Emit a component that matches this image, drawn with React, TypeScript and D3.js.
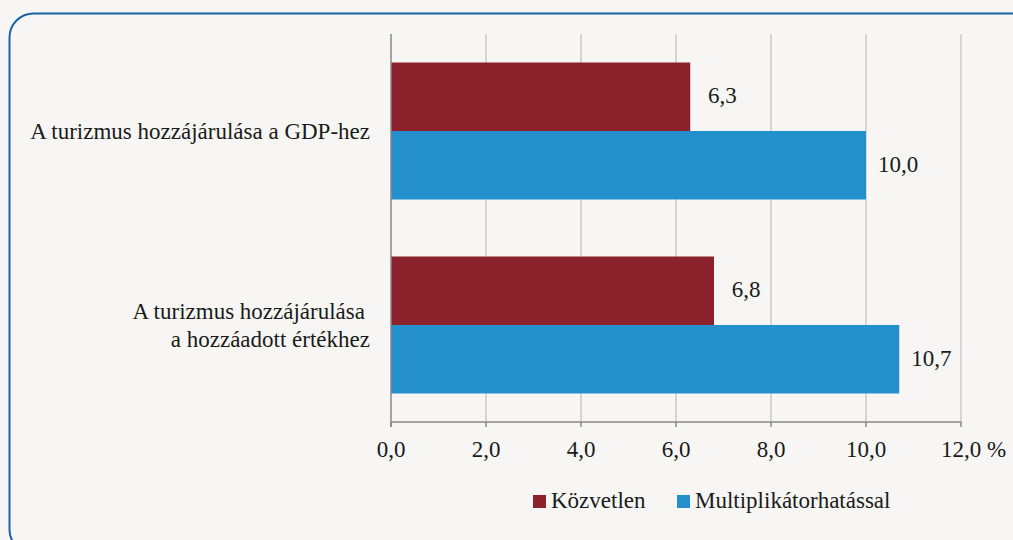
import React from "react";
import * as d3 from "d3";

const categories = ["A turizmus hozzájárulása a GDP-hez", "A turizmus hozzájárulása\na hozzáadott értékhez"];
const seriesNames = ["Közvetlen", "Multiplikátorhatással"];
const kozvetlen = [6.3, 6.8];
const multiplikator = [10.0, 10.7];
const xTicks = [0, 2, 4, 6, 8, 10, 12];
const colors = ["#8b222c", "#2390cc"];

const W = 1013, H = 540;
const FONT = "Liberation Serif, DejaVu Serif, serif";
const txt: React.CSSProperties = { fontFamily: FONT, fontSize: 23 };

export default function App() {
  const x = d3.scaleLinear().domain([0, 12]).range([391, 961]);
  const y = d3.scaleBand().domain(categories).range([34, 422]).paddingInner(0).paddingOuter(0);
  const inner = d3.scaleBand().domain(seriesNames).range([0, y.bandwidth()]).paddingOuter(0.416).paddingInner(0);
  const fmt = (v: number) => d3.format(".1f")(v).replace(".", ",");
  const series = [kozvetlen, multiplikator];
  return (
    <svg width={W} height={H} style={{ position: "absolute", left: 0, top: 0, background: "#f7f6f4" }}>
      <rect x={0} y={0} width={W} height={H} fill="#f7f6f4" />
      <rect x={9.5} y={13.5} width={1030} height={540} rx={24} fill="none" stroke="#1d62a6" strokeWidth={2} />
      {xTicks.slice(1).map((t) => (
        <line key={t} x1={x(t)} x2={x(t)} y1={34} y2={422} stroke="#b4b4b4" strokeWidth={1} />
      ))}
      {series.map((vals, si) =>
        categories.map((c, ci) => (
          <rect key={`${si}-${ci}`} x={x(0)} y={(y(c) ?? 0) + (inner(seriesNames[si]) ?? 0)}
            width={x(vals[ci]) - x(0)} height={inner.bandwidth()} fill={colors[si]} />
        ))
      )}
      {series.map((vals, si) =>
        categories.map((c, ci) => (
          <text key={`l${si}-${ci}`} x={x(vals[ci]) + 32} y={(y(c) ?? 0) + (inner(seriesNames[si]) ?? 0) + inner.bandwidth() / 2 + 6.5}
            textAnchor="middle" style={txt} fill="#1a1a1a">
            {fmt(vals[ci])}
          </text>
        ))
      )}
      <line x1={x(0)} x2={x(12)} y1={422} y2={422} stroke="#888" strokeWidth={1.5} />
      <line x1={x(0)} x2={x(0)} y1={34} y2={427} stroke="#888" strokeWidth={1.5} />
      {xTicks.map((t) => (
        <g key={`t${t}`}>
          <line x1={x(t)} x2={x(t)} y1={422} y2={427} stroke="#888" strokeWidth={1.5} />
          <text x={x(t)} y={457} textAnchor="middle" style={txt} fill="#1a1a1a">
            {fmt(t)}
          </text>
        </g>
      ))}
      <text x={x(12) + 26} y={457} textAnchor="start" style={txt} fill="#1a1a1a">%</text>
      {categories.map((c) => {
        const lines = c.split("\n");
        const cy = (y(c) ?? 0) + y.bandwidth() / 2;
        return (
          <text key={c} textAnchor="end" style={txt} fill="#1a1a1a">
            {lines.map((ln, i) => (
              <tspan key={i} x={lines.length > 1 && i === 0 ? 365 : 370} y={cy + 7.5 + (i - (lines.length - 1) / 2) * 28}>{ln}</tspan>
            ))}
          </text>
        );
      })}
      {seriesNames.map((s, i) => {
        const lx = i === 0 ? 533 : 677;
        return (
          <g key={s}>
            <rect x={lx} y={495} width={13} height={13} fill={colors[i]} />
            <text x={lx + 18} y={508} style={txt} fill="#1a1a1a">{s}</text>
          </g>
        );
      })}
    </svg>
  );
}
